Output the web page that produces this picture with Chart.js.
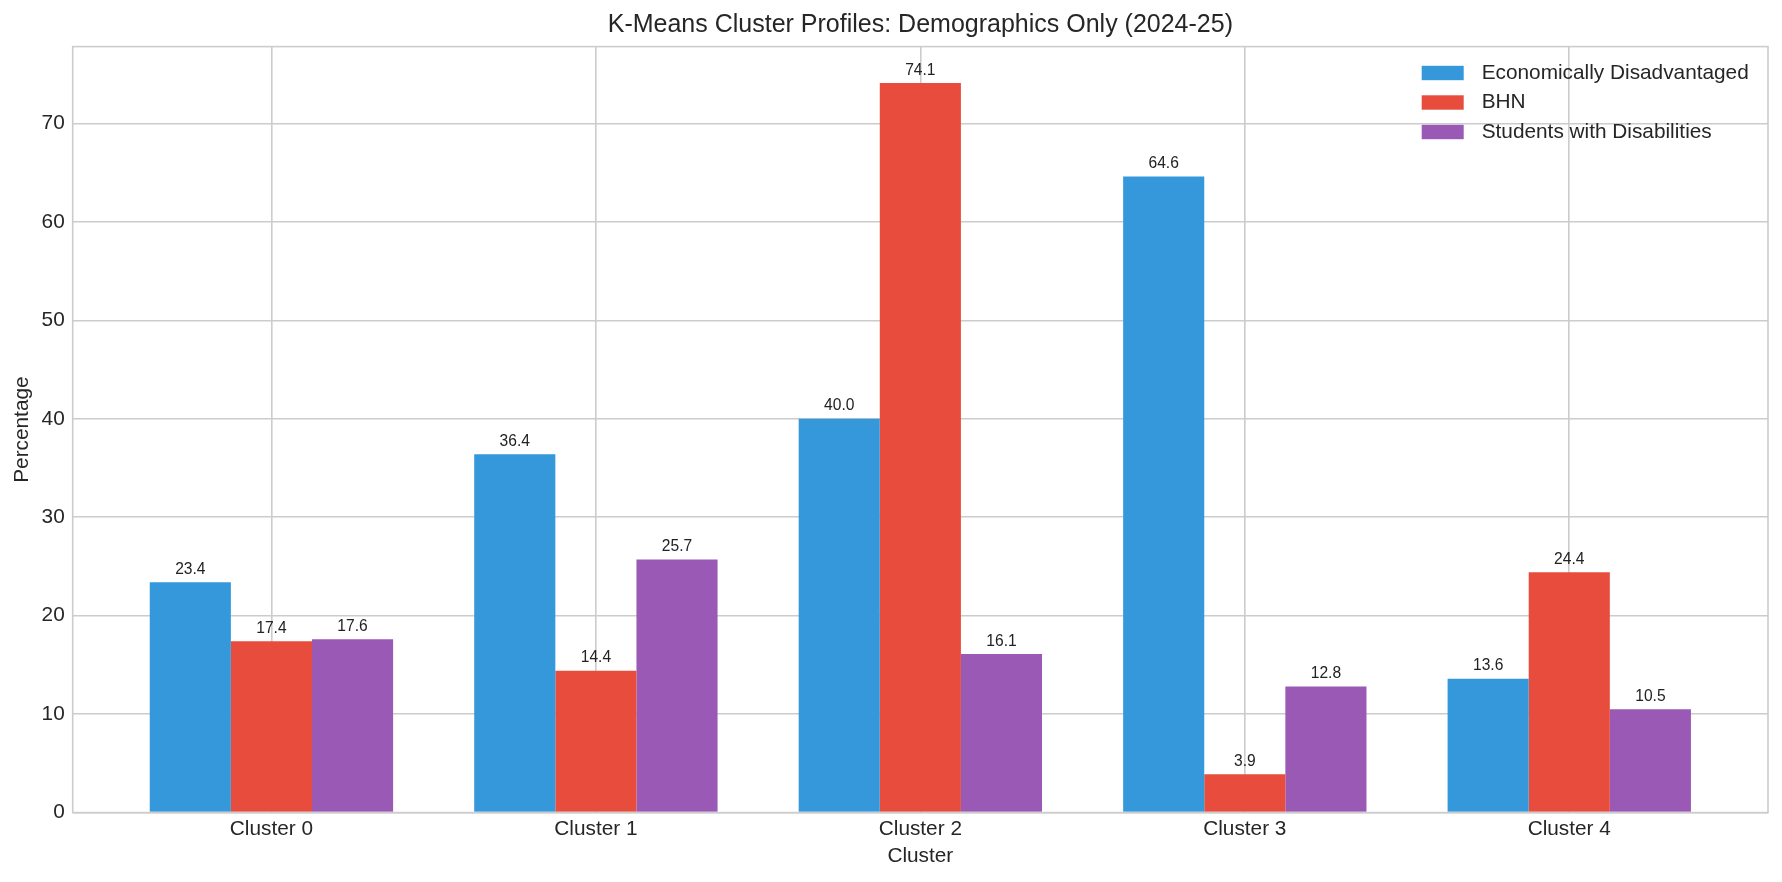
<!DOCTYPE html>
<html>
<head>
<meta charset="utf-8">
<title>K-Means Cluster Profiles</title>
<script src="https://cdn.jsdelivr.net/npm/chart.js"></script>
<style>
  html, body { margin: 0; padding: 0; background: #fff; }
  canvas { display: block; }
</style>
</head>
<body>
<canvas id="barChart" width="1782" height="882"></canvas>
<script>
var clusters = ['Cluster 0', 'Cluster 1', 'Cluster 2', 'Cluster 3', 'Cluster 4'];
var econDisadv = [23.4, 36.4, 40.0, 64.6, 13.6];
var bhn = [17.4, 14.4, 74.1, 3.9, 24.4];
var disabilities = [17.6, 25.7, 16.1, 12.8, 10.5];
var yTicks = [0, 10, 20, 30, 40, 50, 60, 70];
var seriesNames = ['Economically Disadvantaged', 'BHN', 'Students with Disabilities'];
var seriesColors = ['#3498db', '#e74c3c', '#9b59b6'];

var fontFamily = "'Liberation Sans', Arial, sans-serif";
var textColor = '#262626';
var gridColor = '#cccccc';

function to_points(values) {
  return values.map(function (v, i) { return { x: i, y: v }; });
}

// title, frame, value labels and legend
var extras = {
  id: 'extras',
  afterDatasetsDraw: function (chart) {
    var ctx = chart.ctx;
    var area = chart.chartArea;
    ctx.save();
    ctx.fillStyle = '#222222';
    ctx.font = '15.6px ' + fontFamily;
    ctx.textAlign = 'center';
    ctx.textBaseline = 'bottom';
    chart.data.datasets.forEach(function (ds, d) {
      var meta = chart.getDatasetMeta(d);
      meta.data.forEach(function (bar, i) {
        ctx.fillText(ds.data[i].y.toFixed(1), bar.x, bar.y - 5);
      });
    });

    ctx.strokeStyle = gridColor;
    ctx.lineWidth = 1.6;
    ctx.strokeRect(area.left, area.top, area.right - area.left, area.bottom - area.top);
    ctx.restore();
  },
  afterDraw: function (chart) {
    var ctx = chart.ctx;
    var area = chart.chartArea;
    ctx.save();
    ctx.fillStyle = textColor;
    ctx.font = '25px ' + fontFamily;
    ctx.textAlign = 'center';
    ctx.textBaseline = 'middle';
    ctx.fillText('K-Means Cluster Profiles: Demographics Only (2024-25)', (area.left + area.right) / 2, 25);

    ctx.font = '20.8px ' + fontFamily;
    ctx.textAlign = 'left';
    for (var i = 0; i < seriesNames.length; i++) {
      var cy = 73 + i * 29.5;
      ctx.fillStyle = seriesColors[i];
      ctx.fillRect(1421.7, cy - 7.2, 42, 14.4);
      ctx.fillStyle = textColor;
      ctx.fillText(seriesNames[i], 1481.7, cy);
    }
    ctx.restore();
  }
};

var datasets = [econDisadv, bhn, disabilities].map(function (vals, i) {
  return {
    label: seriesNames[i],
    data: to_points(vals),
    backgroundColor: seriesColors[i],
    borderWidth: 0,
    categoryPercentage: 0.75,
    barPercentage: 1.0
  };
});

var barChart = new Chart(document.getElementById('barChart').getContext('2d'), {
  type: 'bar',
  data: { datasets: datasets },
  plugins: [extras],
  options: {
    responsive: false,
    animation: false,
    devicePixelRatio: 1,
    layout: { padding: { top: 46.6, right: 14, left: 0, bottom: 0 } },
    plugins: {
      legend: { display: false },
      title: { display: false },
      tooltip: { enabled: false }
    },
    scales: {
      x: {
        type: 'linear',
        min: -0.6125,
        max: 4.6125,
        offset: false,
        afterBuildTicks: function (scale) {
          scale.ticks = clusters.map(function (c, i) { return { value: i }; });
        },
        afterFit: function (scale) { scale.height = 69.4; },
        ticks: {
          color: textColor,
          font: { size: 20.8, family: fontFamily },
          padding: 4,
          maxRotation: 0,
          autoSkip: false,
          callback: function (v) { return clusters[v]; }
        },
        grid: { color: gridColor, lineWidth: 1.6, drawTicks: false, offset: false },
        border: { display: false },
        title: {
          display: true,
          text: 'Cluster',
          color: textColor,
          font: { size: 20.8, family: fontFamily },
          padding: { top: 0, bottom: 13 }
        }
      },
      y: {
        min: 0,
        max: 77.8,
        afterBuildTicks: function (scale) {
          scale.ticks = yTicks.map(function (v) { return { value: v }; });
        },
        afterFit: function (scale) { scale.width = 72.7; },
        ticks: {
          color: textColor,
          font: { size: 20.8, family: fontFamily },
          padding: 8
        },
        grid: { color: gridColor, lineWidth: 1.6, drawTicks: false },
        border: { display: false },
        title: {
          display: true,
          text: 'Percentage',
          color: textColor,
          font: { size: 20.8, family: fontFamily },
          padding: { top: 10, bottom: 0 }
        }
      }
    }
  }
});
</script>
</body>
</html>
